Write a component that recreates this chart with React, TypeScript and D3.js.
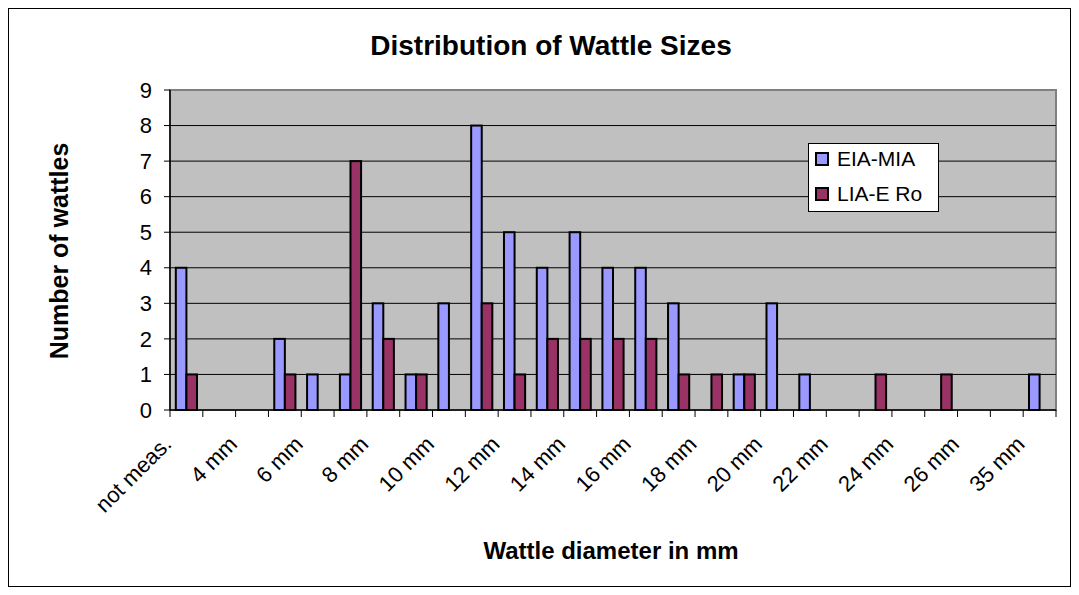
import React from 'react'
import * as d3 from 'd3'

const categories = [
    'not meas.', '3 mm', '4 mm', '5 mm', '6 mm', '7 mm', '8 mm', '9 mm', '10 mm',
    '11 mm', '12 mm', '13 mm', '14 mm', '15 mm', '16 mm', '17 mm', '18 mm', '19 mm',
    '20 mm', '21 mm', '22 mm', '23 mm', '24 mm', '25 mm', '26 mm', '30 mm', '35 mm',
]
const eiaMia = [4, 0, 0, 2, 1, 1, 3, 1, 3, 8, 5, 4, 5, 4, 4, 3, 0, 1, 3, 1, 0, 0, 0, 0, 0, 0, 1]
const liaERo = [1, 0, 0, 1, 0, 7, 2, 1, 0, 3, 1, 2, 2, 2, 2, 1, 1, 1, 0, 0, 0, 1, 0, 1, 0, 0, 0]
const seriesNames = ['EIA-MIA', 'LIA-E Ro']
const seriesColors = ['#9999FF', '#993366']
const yTicks = [0, 1, 2, 3, 4, 5, 6, 7, 8, 9]

const W = 1063
const H = 579
const plot = { left: 162, right: 1048, top: 82, bottom: 402 }
const font = '"Liberation Sans", Arial, sans-serif'

const App: React.FC = () => {
    const x = d3.scaleBand<string>().domain(categories).range([plot.left, plot.right])
    const xs = d3
        .scaleBand<string>()
        .domain(seriesNames)
        .range([0, x.bandwidth()])
        .paddingOuter(0.55)
    const y = d3.scaleLinear().domain([0, 9]).range([plot.bottom, plot.top])

    const series = [eiaMia, liaERo]

    return (
        <svg width={W} height={H} style={{ display: 'block', fontFamily: font }}>
            <rect x={0.5} y={0.5} width={W - 1} height={H - 1} fill="white" stroke="black" />

            <text x={543} y={47} textAnchor="middle" fontSize={28} fontWeight="bold">
                Distribution of Wattle Sizes
            </text>

            {/* plot area */}
            <rect
                x={plot.left}
                y={plot.top}
                width={plot.right - plot.left}
                height={plot.bottom - plot.top}
                fill="#C0C0C0"
                stroke="#808080"
                strokeWidth={2}
            />
            {yTicks.slice(1, -1).map((t) => (
                <line key={t} x1={plot.left} x2={plot.right} y1={y(t)} y2={y(t)} stroke="#000" />
            ))}

            {/* bars */}
            {series.map((vals, si) =>
                vals.map((v, i) =>
                    v > 0 ? (
                        <rect
                            key={`${si}-${i}`}
                            x={(x(categories[i]) ?? 0) + (xs(seriesNames[si]) ?? 0)}
                            y={y(v)}
                            width={xs.bandwidth()}
                            height={y(0) - y(v)}
                            fill={seriesColors[si]}
                            stroke="#000"
                            strokeWidth={2}
                        />
                    ) : null
                )
            )}

            {/* y axis */}
            <line x1={plot.left} x2={plot.left} y1={plot.top} y2={plot.bottom} stroke="#000" strokeWidth={1.5} />
            {yTicks.map((t) => (
                <g key={t}>
                    <line x1={plot.left - 6} x2={plot.left} y1={y(t)} y2={y(t)} stroke="#000" />
                    <text x={plot.left - 18} y={y(t)} dy="0.35em" textAnchor="end" fontSize={22}>
                        {t}
                    </text>
                </g>
            ))}

            {/* x axis */}
            <line x1={plot.left} x2={plot.right} y1={plot.bottom} y2={plot.bottom} stroke="#000" strokeWidth={1.5} />
            {categories.map((c) => (
                <line
                    key={c}
                    x1={x(c)}
                    x2={x(c)}
                    y1={plot.bottom}
                    y2={plot.bottom + 7}
                    stroke="#000"
                />
            ))}
            <line x1={plot.right} x2={plot.right} y1={plot.bottom} y2={plot.bottom + 7} stroke="#000" />
            {categories.map((c, i) =>
                i % 2 === 0 ? (
                    <text
                        key={c}
                        transform={`translate(${(x(c) ?? 0) + x.bandwidth() / 2 - 19},${plot.bottom + 30}) rotate(-45)`}
                        textAnchor="end"
                        dy="0.35em"
                        fontSize={22}
                    >
                        {c}
                    </text>
                ) : null
            )}

            <text x={603} y={551} textAnchor="middle" fontSize={24} fontWeight="bold">
                Wattle diameter in mm
            </text>
            <text
                transform={`translate(60,${(plot.top + plot.bottom) / 2 + 1}) rotate(-90)`}
                textAnchor="middle"
                fontSize={25}
                fontWeight="bold"
            >
                Number of wattles
            </text>

            {/* legend */}
            <g transform="translate(800,135)">
                <rect x={0.5} y={0.5} width={130} height={68} fill="white" stroke="#000" />
                {seriesNames.map((s, i) => (
                    <g key={s} transform={`translate(8,${10 + i * 35})`}>
                        <rect x={0} y={0} width={12} height={12} fill={seriesColors[i]} stroke="#000" strokeWidth={2} />
                        <text x={21} y={6} dy="0.35em" fontSize={21}>
                            {s}
                        </text>
                    </g>
                ))}
            </g>
        </svg>
    )
}

export default App
